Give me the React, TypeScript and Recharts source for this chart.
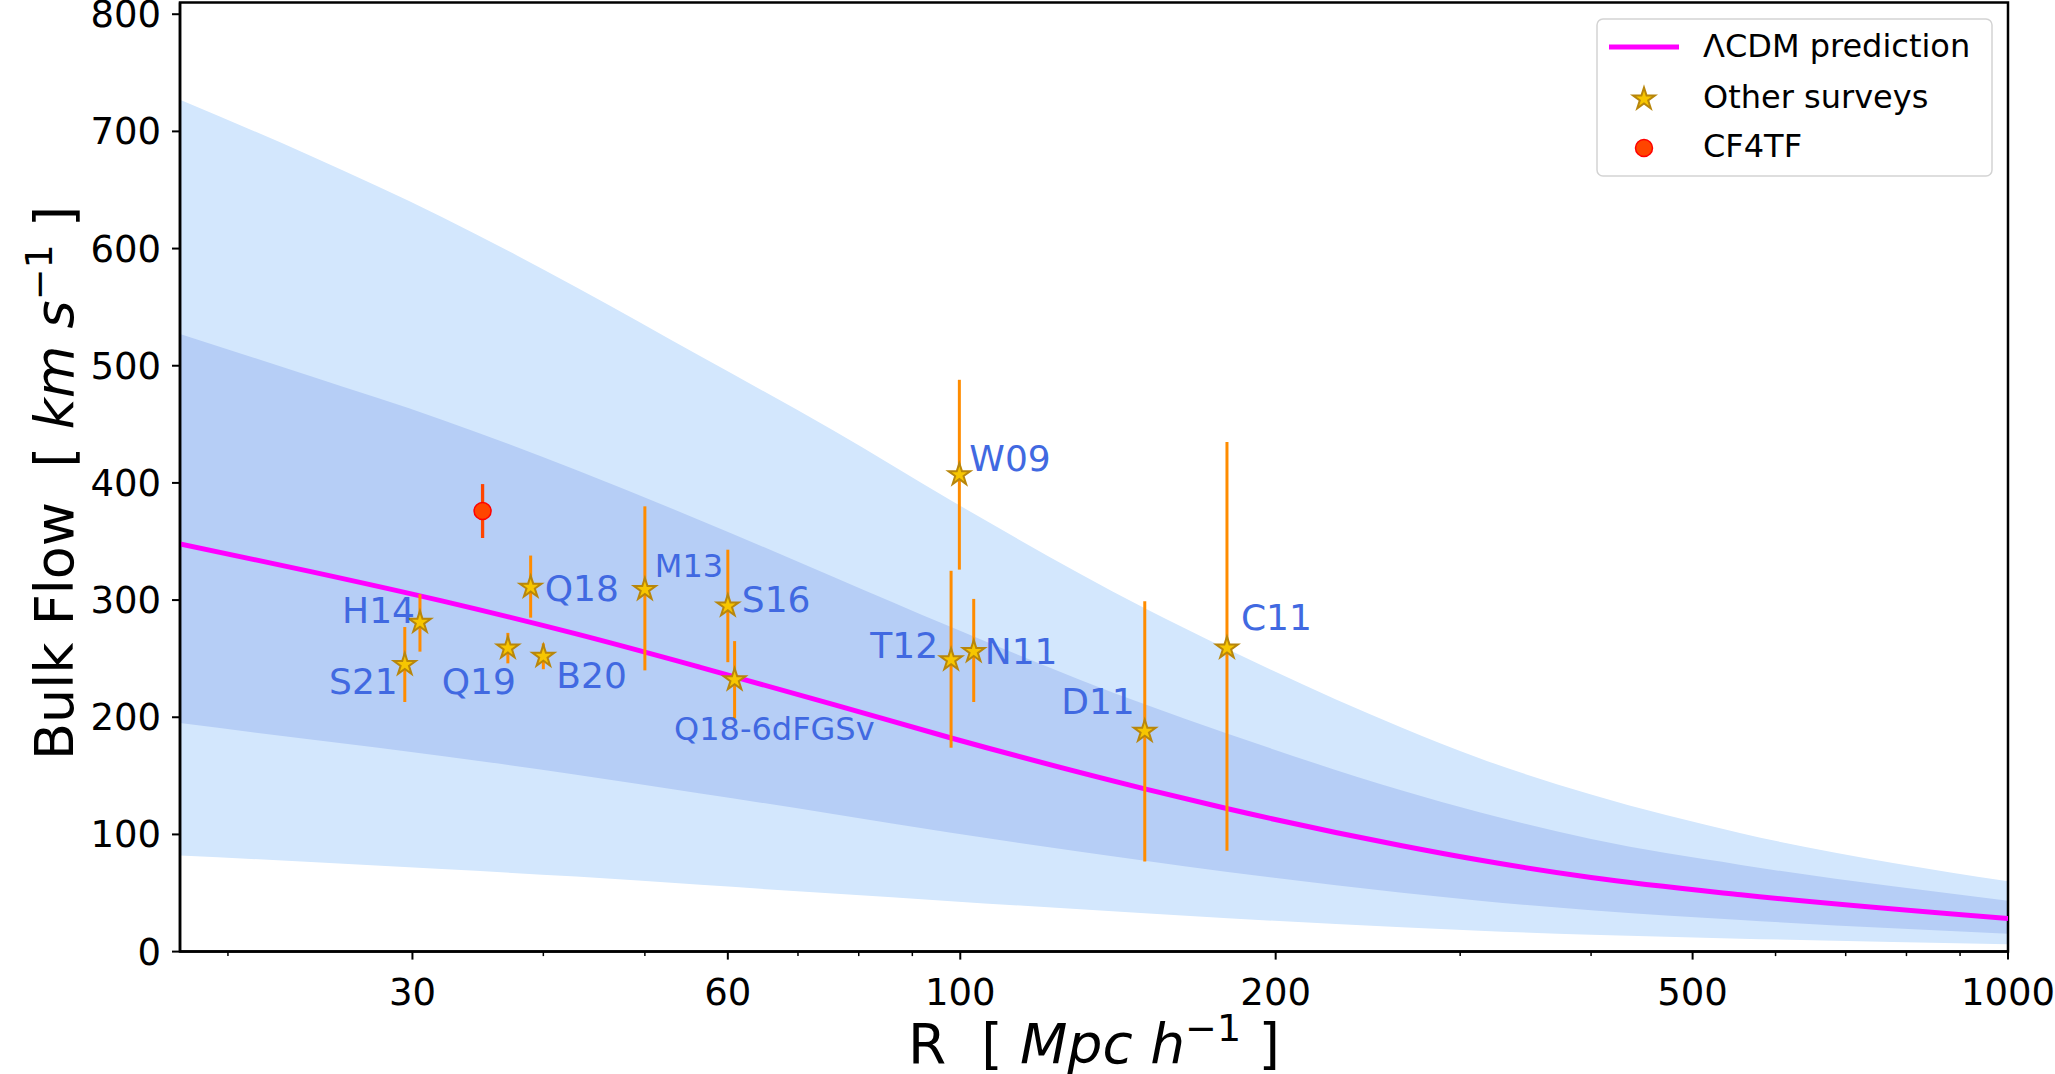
import React from "react";
import {
  ComposedChart,
  Area,
  Line,
  Scatter,
  ErrorBar,
  XAxis,
  YAxis,
  ReferenceArea,
} from "recharts";

// LCDM expectation bands
const radius = [18, 24, 32, 43, 56.5, 75.6, 98, 150, 180, 264, 313, 400, 556, 1000];
const outerHigh = [727, 679, 627, 567, 508, 445, 385, 293, 258, 191, 165, 134, 101, 60];
const innerHigh = [527, 491, 454, 411, 368, 320, 277, 211, 186, 137.5, 119, 96, 74, 43.5];
const lcdmCurve = [348, 324.3, 299.3, 271.1, 242.6, 211, 182.3, 138.9, 121.9, 90.3, 78.1, 63.2, 48.5, 28.2];
const innerLow = [195, 181, 167, 151, 135, 117.5, 101.5, 77.5, 68, 50.3, 43.5, 35.3, 27, 15.3];
const outerLow = [82, 76.5, 70.5, 64, 57, 49.5, 43, 32.7, 28.5, 20.7, 17.8, 14.3, 11, 6.3];

// other surveys
const surveyNames = ["S21", "H14", "Q19", "B20", "Q18", "M13", "S16", "Q18-6dFGSv", "T12", "N11", "W09", "D11", "C11"];
const surveyR = [29.5, 30.5, 37.0, 40.0, 38.9, 50.0, 60.0, 60.9, 98.0, 103.0, 99.8, 150.0, 179.7];
const surveyV = [245, 281, 259, 252, 311, 309, 295, 232, 249, 256, 407, 188, 259];
const surveyLo = [213, 256, 246, 241, 285, 240, 247, 199, 174, 213, 326, 77, 86];
const surveyHi = [277, 305, 272, 263, 338, 380, 343, 265, 325, 301, 488, 299, 435];

// this work
const cf4R = [35.0];
const cf4V = [376];
const cf4Lo = [353];
const cf4Hi = [399];

const xTicks = [20, 30, 40, 50, 60, 70, 80, 90, 100, 200, 300, 400, 500, 600, 700, 800, 900, 1000];
const xMajor = [30, 60, 100, 200, 500, 1000];
const yTicks = [0, 100, 200, 300, 400, 500, 600, 700, 800];

const bands = radius.map((r, i) => ({
  R: r,
  outer: [outerLow[i], outerHigh[i]],
  inner: [innerLow[i], innerHigh[i]],
  lcdm: lcdmCurve[i],
}));

const surveys = surveyNames.map((name, i) => ({
  name,
  R: surveyR[i],
  v: surveyV[i],
  err: [surveyV[i] - surveyLo[i], surveyHi[i] - surveyV[i]],
}));

const cf4 = cf4R.map((r, i) => ({
  R: r,
  v: cf4V[i],
  err: [cf4V[i] - cf4Lo[i], cf4Hi[i] - cf4V[i]],
}));

const FONT = "DejaVu Sans";
const LABEL_BLUE = "#4169e1";

// annotation placement relative to each star
const labelPos: Record<string, { dx: number; dy: number; anchor: string; size: number }> = {
  S21: { dx: -7, dy: 29, anchor: "end", size: 36 },
  H14: { dx: -5, dy: 1, anchor: "end", size: 36 },
  Q19: { dx: 8, dy: 46, anchor: "end", size: 36 },
  B20: { dx: 13, dy: 32, anchor: "start", size: 36 },
  Q18: { dx: 14, dy: 14, anchor: "start", size: 36 },
  M13: { dx: 10, dy: -13, anchor: "start", size: 32 },
  S16: { dx: 14, dy: 6, anchor: "start", size: 36 },
  "Q18-6dFGSv": { dx: 140, dy: 60, anchor: "end", size: 32 },
  T12: { dx: -13, dy: -2, anchor: "end", size: 36 },
  N11: { dx: 11, dy: 12, anchor: "start", size: 36 },
  W09: { dx: 10, dy: -4, anchor: "start", size: 36 },
  D11: { dx: -10, dy: -17, anchor: "end", size: 36 },
  C11: { dx: 14, dy: -18, anchor: "start", size: 36 },
};

function starPoints(cx: number, cy: number, outer = 11.5) {
  const inner = outer * 0.382;
  const pts: string[] = [];
  for (let k = 0; k < 10; k++) {
    const r = k % 2 === 0 ? outer : inner;
    const a = -Math.PI / 2 + (k * Math.PI) / 5;
    pts.push(`${cx + r * Math.cos(a)},${cy + r * Math.sin(a)}`);
  }
  return pts.join(" ");
}

function SurveyStar(props: any) {
  const { cx, cy, payload } = props;
  const lab = labelPos[payload.name];
  return (
    <g>
      <polygon points={starPoints(cx, cy)} fill="#f7c600" stroke="#b8860b" strokeWidth={2} />
      {lab && (
        <text
          x={cx + lab.dx}
          y={cy + lab.dy}
          textAnchor={lab.anchor}
          fontSize={lab.size}
          fontFamily={FONT}
          fill={LABEL_BLUE}
        >
          {payload.name}
        </text>
      )}
    </g>
  );
}

function CF4Dot(props: any) {
  const { cx, cy } = props;
  return <circle cx={cx} cy={cy} r={8.5} fill="#ff4500" stroke="#ff0000" strokeWidth={1.5} />;
}

function XTick(props: any) {
  const { x, y, payload } = props;
  const major = xMajor.includes(payload.value);
  return (
    <g>
      <line x1={x} x2={x} y1={y} y2={y + (major ? 8 : 4.5)} stroke="#000" strokeWidth={major ? 2 : 1.5} />
      {major && (
        <text x={x} y={y + 53} textAnchor="middle" fontSize={37} fontFamily={FONT} fill="#000">
          {payload.value}
        </text>
      )}
    </g>
  );
}

function YTick(props: any) {
  const { x, y, payload } = props;
  return (
    <g>
      <line x1={x - 8} x2={x} y1={y} y2={y} stroke="#000" strokeWidth={2} />
      <text x={x - 19} y={y + 13} textAnchor="end" fontSize={37} fontFamily={FONT} fill="#000">
        {payload.value}
      </text>
    </g>
  );
}

export default function App() {
  return (
    <div style={{ position: "absolute", left: 0, top: 0, width: 2055, height: 1074, background: "#fff" }}>
      <ComposedChart
        width={2055}
        height={1074}
        data={bands}
        margin={{ top: 2.5, right: 47, bottom: 62.4, left: 80 }}
      >
        <XAxis
          dataKey="R"
          type="number"
          scale="log"
          domain={[18, 1000]}
          allowDataOverflow
          ticks={xTicks}
          interval={0}
          tick={<XTick />}
          tickLine={false}
          tickSize={0}
          tickMargin={0}
          axisLine={{ stroke: "#000", strokeWidth: 2.5 }}
          height={60}
        />
        <YAxis
          type="number"
          domain={[0, 810]}
          allowDataOverflow
          ticks={yTicks}
          interval={0}
          tick={<YTick />}
          tickLine={false}
          tickSize={0}
          tickMargin={0}
          axisLine={{ stroke: "#000", strokeWidth: 2.5 }}
          width={100}
        />
        <Area
          type="monotone"
          dataKey="outer"
          fill="#d3e7fd"
          fillOpacity={1}
          stroke="none"
          isAnimationActive={false}
        />
        <Area
          type="monotone"
          dataKey="inner"
          fill="#b6cef6"
          fillOpacity={1}
          stroke="none"
          isAnimationActive={false}
        />
        <Line
          type="monotone"
          dataKey="lcdm"
          stroke="#ff00ff"
          strokeWidth={5}
          dot={false}
          isAnimationActive={false}
        />
        <Scatter data={surveys} dataKey="v" shape={<SurveyStar />} isAnimationActive={false}>
          <ErrorBar dataKey="err" direction="y" width={0} stroke="#ff8c00" strokeWidth={3} />
        </Scatter>
        <Scatter data={cf4} dataKey="v" shape={<CF4Dot />} isAnimationActive={false}>
          <ErrorBar dataKey="err" direction="y" width={0} stroke="#ff4500" strokeWidth={3.3} />
        </Scatter>
        <ReferenceArea
          x1={18}
          x2={1000}
          y1={0}
          y2={810}
          fill="none"
          fillOpacity={0}
          stroke="#000"
          strokeWidth={2.5}
          ifOverflow="visible"
        />
      </ComposedChart>

      <svg
        width={2055}
        height={1074}
        style={{ position: "absolute", left: 0, top: 0, pointerEvents: "none" }}
        fontFamily={FONT}
      >
        {/* legend */}
        <rect x={1597} y={19} width={395} height={157} rx={6} fill="#fff" fillOpacity={0.8} stroke="#d3d3d3" strokeWidth={1.5} />
        <line x1={1609} x2={1679} y1={47} y2={47} stroke="#ff00ff" strokeWidth={5} />
        <text x={1703} y={57} fontSize={32} fill="#000">ΛCDM prediction</text>
        <polygon points={starPoints(1644, 99)} fill="#f7c600" stroke="#b8860b" strokeWidth={2} />
        <text x={1703} y={108} fontSize={32} fill="#000">Other surveys</text>
        <circle cx={1644} cy={148} r={8.5} fill="#ff4500" stroke="#ff0000" strokeWidth={1.5} />
        <text x={1703} y={157} fontSize={32} fill="#000">CF4TF</text>

        {/* axis titles */}
        <text x={1094} y={1063} fontSize={55} textAnchor="middle" fill="#000" style={{ whiteSpace: "pre" }}>
          {"R  [ "}
          <tspan fontStyle="italic">Mpc h</tspan>
          <tspan fontSize={38} dy={-22}>−1</tspan>
          <tspan dy={22}>{" ]"}</tspan>
        </text>
        <text
          x={73}
          y={483}
          fontSize={54}
          textAnchor="middle"
          fill="#000"
          transform="rotate(-90 73 483)"
          style={{ whiteSpace: "pre" }}
        >
          {"Bulk Flow  [ "}
          <tspan fontStyle="italic">km s</tspan>
          <tspan fontSize={38} dy={-21}>−1</tspan>
          <tspan dy={21}>{" ]"}</tspan>
        </text>
      </svg>
    </div>
  );
}
